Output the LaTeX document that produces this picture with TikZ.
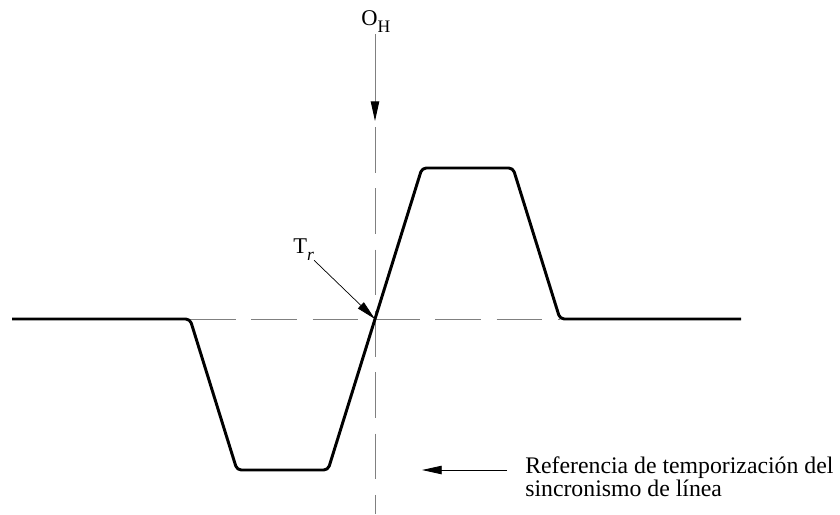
\documentclass[tikz,border=0pt]{standalone}
\usepackage{fontspec}
\setmainfont{Liberation Serif}
\usetikzlibrary{arrows.meta}
\newcommand{\lowidx}[1]{\raisebox{-5pt}{\fontsize{12.5}{12.5}\selectfont #1}}

\begin{document}
\begin{tikzpicture}[x=0.025cm, y=-0.025cm,
    >={Triangle[length=14pt, width=6pt, black]}]
  \useasboundingbox (0,0) rectangle (840,514);
  \tikzset{
    guide/.style={black!50, line width=0.7pt, dash pattern=on 32.6pt off 11pt},
    pulse/.style={line width=2.1pt, rounded corners=3pt, line join=round},
    lbl/.style={font=\fontsize{16}{15}\selectfont, inner sep=0pt},
  }
  % ------- half-amplitude point and the two reference lines -------
  \coordinate (mid) at (375,319);
  \draw[guide] (375,127) -- (375,514);
  \draw[guide] (190,319) -- (560,319);
  % ------- the line sync pulse -------
  \draw[pulse] (12,319) -- (190,319) -- (237,470) -- (328,470)
    -- (422,168) -- (513,168) -- (560,319) -- (741,319);
  % ------- O_H, marked from above -------
  \node[lbl, anchor=base west] (oh) at (361,25) {O\lowidx{H}};
  \coordinate (ohtip) at (375,121);
  \draw[->, black!50, line width=0.7pt] (oh.south -| ohtip) ++(0,2) -- (ohtip);
  % ------- T_r, pointing at the crossing -------
  \node[lbl, anchor=base west] (tr) at (293,253) {T\lowidx{\itshape r}};
  \draw[->, line width=0.5pt] (tr.south east) -- (mid);
  % ------- reference note -------
  \node[lbl, font=\fontsize{16.9}{16.5}\selectfont, anchor=north west, align=left]
    (ref) at (525,456) {Referencia de temporización del\\sincronismo de línea};
  \coordinate (reftail) at (507,470);
  \coordinate (reftip) at (422,470);
  \draw[->, line width=0.6pt] (reftail) -- (reftip);
\end{tikzpicture}
\end{document}
